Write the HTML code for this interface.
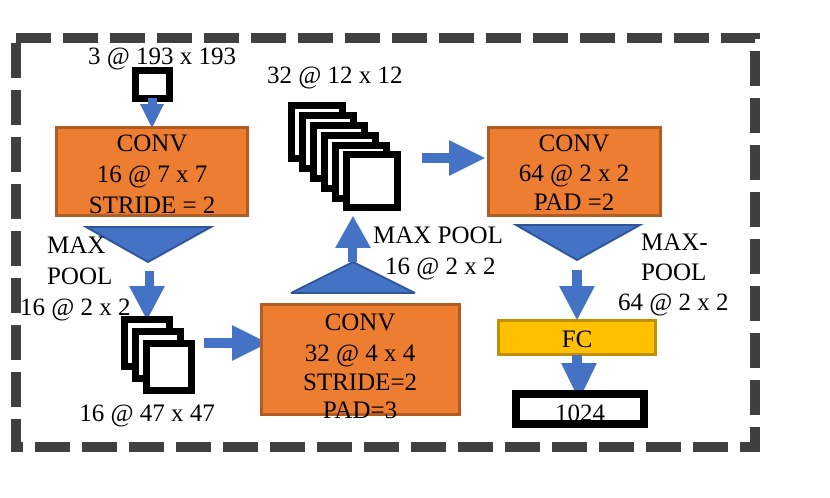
<!DOCTYPE html>
<html><head><style>body{margin:0;background:#fff}svg{display:block}text{font-family:"Liberation Serif",serif;font-size:25px;fill:#000}</style></head><body>
<svg width="830" height="498" viewBox="0 0 830 498">
<rect x="16" y="38" width="739" height="409" fill="none" stroke="#404040" stroke-width="10" stroke-dasharray="35,12"/>
<text x="162" y="64" text-anchor="middle">3 @ 193 x 193</text>
<rect x="135.5" y="70.5" width="34" height="28" fill="#fff" stroke="#000" stroke-width="7"/>
<polygon points="148,98 157,98 157,104 164,104 152,128 140,104 148,104" fill="#4472C4"/>
<rect x="56.5" y="127.5" width="191" height="88" fill="#ED7D31" stroke="#B25B22" stroke-width="3"/>
<text x="152" y="151" text-anchor="middle">CONV</text>
<text x="152" y="182" text-anchor="middle">16 @ 7 x 7</text>
<text x="152" y="213" text-anchor="middle">STRIDE = 2</text>
<polygon points="86,227 211,227 148,262" fill="#4472C4" stroke="#2F5597" stroke-width="2"/>
<text x="47" y="253">MAX</text>
<text x="47" y="284">POOL</text>
<text x="20" y="315">16 @ 2 x 2</text>
<polygon points="145,271 154,271 154,286 165,286 147,320 129,286 145,286" fill="#4472C4"/>
<rect x="124.5" y="319.5" width="45" height="47" fill="#fff" stroke="#000" stroke-width="7"/>
<rect x="135.5" y="331.5" width="45" height="47" fill="#fff" stroke="#000" stroke-width="7"/>
<rect x="146.5" y="343.5" width="45" height="47" fill="#fff" stroke="#000" stroke-width="7"/>
<text x="147" y="421" text-anchor="middle">16 @ 47 x 47</text>
<polygon points="204,338 232,338 232,325 268,343 232,361 232,348 204,348" fill="#4472C4"/>
<rect x="261.5" y="304.5" width="198" height="110" fill="#ED7D31" stroke="#B25B22" stroke-width="3"/>
<text x="360" y="330" text-anchor="middle">CONV</text>
<text x="360" y="361" text-anchor="middle">32 @ 4 x 4</text>
<text x="360" y="390" text-anchor="middle">STRIDE=2</text>
<text x="360" y="418" text-anchor="middle">PAD=3</text>
<polygon points="291,293 415,293 353,262" fill="#4472C4" stroke="#2F5597" stroke-width="2"/>
<polygon points="348,262 357,262 357,248 371,248 353,216 335,248 348,248" fill="#4472C4"/>
<text x="373" y="243">MAX POOL</text>
<text x="385" y="274">16 @ 2 x 2</text>
<text x="267" y="83">32 @ 12 x 12</text>
<g fill="#fff" stroke="#000" stroke-width="7">
<rect x="291.5" y="105.5" width="51" height="53"/>
<rect x="302.5" y="115.5" width="51" height="53"/>
<rect x="313.5" y="125.5" width="51" height="53"/>
<rect x="324.5" y="135.5" width="51" height="53"/>
<rect x="335.5" y="145.5" width="51" height="53"/>
<rect x="346.5" y="154.5" width="51" height="53"/>
</g>
<polygon points="422,153 449,153 449,140 485,158 449,176 449,163 422,163" fill="#4472C4"/>
<rect x="488.5" y="127.5" width="172" height="88" fill="#ED7D31" stroke="#B25B22" stroke-width="3"/>
<text x="574" y="151" text-anchor="middle">CONV</text>
<text x="574" y="181" text-anchor="middle">64 @ 2 x 2</text>
<text x="574" y="210" text-anchor="middle">PAD =2</text>
<polygon points="516,225 640,225 577,260" fill="#4472C4" stroke="#2F5597" stroke-width="2"/>
<text x="641" y="250">MAX-</text>
<text x="641" y="280">POOL</text>
<text x="618" y="310">64 @ 2 x 2</text>
<polygon points="572,270 582,270 582,286 595,286 577,320 559,286 572,286" fill="#4472C4"/>
<rect x="498.5" y="320.5" width="157" height="34" fill="#FFC000" stroke="#BF9000" stroke-width="3"/>
<text x="577" y="347" text-anchor="middle">FC</text>
<polygon points="572,355 582,355 582,363 597,363 579,400 561,363 572,363" fill="#4472C4"/>
<rect x="516" y="394" width="128" height="30" fill="#fff" stroke="#000" stroke-width="8"/>
<text x="580" y="421" text-anchor="middle">1024</text>
</svg>
</body></html>
